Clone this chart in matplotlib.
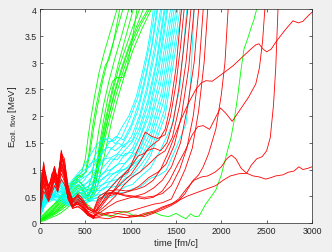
import matplotlib
matplotlib.use("Agg")
import matplotlib.pyplot as plt

plt.rcParams["font.family"] = ["Liberation Sans", "DejaVu Sans"]
plt.rcParams["mathtext.fontset"] = "custom"
plt.rcParams["mathtext.rm"] = "Liberation Sans"
plt.rcParams["mathtext.it"] = "Liberation Sans:italic"

# shared early-time samples for each family (fm/c)
RED_EARLY_T = [0, 20, 40, 65, 95, 130, 160, 195, 235, 270, 310, 360, 420, 470, 530, 590]
CYAN_EARLY_T = [0, 40, 80, 130, 180, 230, 280, 330, 380, 430, 480]
GREEN_EARLY_T = [0, 60, 120, 180, 240, 300, 360, 420]

# ---- red runs: early values + later (t, E) pairs ----
RED_EARLY = [
    [0.25, 0.75, 1.14, 0.85, 0.62, 0.88, 1.05, 0.78, 1.36, 1.05, 0.55, 0.32, 0.45, 0.35, 0.18, 0.12],
    [0.55, 0.95, 0.85, 0.70, 0.72, 0.80, 0.92, 0.88, 1.25, 1.15, 0.70, 0.40, 0.38, 0.30, 0.22, 0.18],
    [0.20, 0.45, 0.70, 0.55, 0.45, 0.70, 0.82, 0.60, 1.00, 0.82, 0.45, 0.30, 0.42, 0.38, 0.20, 0.10],
    [0.35, 0.62, 0.98, 0.80, 0.55, 0.62, 0.98, 0.70, 1.18, 0.90, 0.60, 0.45, 0.50, 0.42, 0.28, 0.20],
    [0.15, 0.40, 0.60, 0.50, 0.40, 0.55, 0.70, 0.58, 0.82, 0.72, 0.50, 0.28, 0.30, 0.25, 0.15, 0.08],
    [0.68, 0.80, 0.92, 0.65, 0.50, 0.72, 0.88, 0.75, 1.30, 1.20, 0.62, 0.35, 0.35, 0.28, 0.16, 0.10],
    [0.45, 0.70, 1.05, 0.90, 0.65, 0.78, 1.02, 0.82, 1.10, 0.95, 0.52, 0.30, 0.40, 0.33, 0.14, 0.09],
    [0.28, 0.85, 1.10, 0.75, 0.58, 0.92, 0.95, 0.68, 1.33, 1.00, 0.58, 0.38, 0.48, 0.40, 0.26, 0.22],
    [0.22, 0.55, 0.88, 0.78, 0.68, 0.86, 1.06, 0.72, 1.22, 1.08, 0.66, 0.42, 0.55, 0.45, 0.30, 0.24],
    [0.48, 0.58, 0.75, 0.60, 0.48, 0.66, 0.78, 0.62, 0.92, 0.78, 0.48, 0.30, 0.36, 0.28, 0.16, 0.13],
    [0.18, 0.50, 0.80, 0.58, 0.42, 0.60, 0.86, 0.66, 1.05, 0.85, 0.44, 0.27, 0.32, 0.24, 0.14, 0.12],
    [0.32, 0.78, 1.02, 0.86, 0.70, 0.84, 0.99, 0.80, 1.28, 0.98, 0.58, 0.40, 0.52, 0.38, 0.26, 0.21],
    [0.26, 0.66, 0.92, 0.68, 0.52, 0.76, 0.90, 0.66, 1.12, 0.88, 0.50, 0.33, 0.38, 0.30, 0.19, 0.14],
]
RED_LATE = [
    [(650, .35), (720, .55), (800, .70), (880, .85), (970, .95), (1060, 1.3), (1160, 1.7), (1230, 1.62),
     (1300, 1.58), (1380, 1.65), (1440, 2.0), (1500, 2.6), (1550, 3.3), (1590, 4.0)],
    [(650, .30), (730, .50), (820, .60), (900, .75), (1000, .90), (1100, 1.15), (1180, 1.35), (1260, 1.4),
     (1330, 1.35), (1400, 1.5), (1470, 1.9), (1530, 2.5), (1580, 3.2), (1630, 4.0)],
    [(650, .22), (740, .35), (830, .50), (920, .70), (1010, .85), (1100, .95), (1200, 1.1), (1290, 1.25),
     (1380, 1.35), (1460, 1.6), (1540, 2.2), (1610, 3.0), (1665, 4.0)],
    [(650, .40), (720, .55), (800, .58), (900, .55), (1000, .60), (1100, .70), (1200, .85), (1300, .95),
     (1390, 1.1), (1480, 1.45), (1560, 2.0), (1640, 2.9), (1700, 4.0)],
    [(650, .30), (750, .50), (850, .55), (950, .52), (1050, .50), (1150, .55), (1250, .65), (1350, .80),
     (1450, 1.05), (1550, 1.5), (1630, 2.2), (1700, 3.0), (1750, 4.0)],
    [(650, .12), (750, .18), (850, .22), (950, .20), (1050, .25), (1150, .30), (1250, .35), (1350, .38),
     (1450, .45), (1520, .70), (1600, 1.0), (1680, 1.4), (1750, 2.1), (1810, 3.0), (1850, 4.0)],
    [(650, .10), (750, .08), (850, .12), (950, .10), (1050, .15), (1150, .12), (1250, .18), (1350, .25),
     (1450, .33), (1520, .40), (1600, .55), (1680, .78), (1750, .90), (1800, 1.05), (1860, 1.3),
     (1940, 1.76), (2000, 2.4), (2040, 3.0), (2075, 4.0)],
    [(650, .45), (750, .55), (850, .55), (950, .50), (1050, .48), (1150, .45), (1250, .48), (1350, .60),
     (1430, .80), (1520, 1.1), (1600, 1.35), (1680, 1.65), (1740, 1.8), (1800, 1.82), (1870, 1.75),
     (1930, 1.95), (1990, 2.15), (2050, 2.05), (2120, 1.9), (2200, 2.1), (2300, 2.35), (2380, 2.6),
     (2420, 2.9), (2455, 3.4), (2480, 4.0)],
    [(650, .50), (750, .60), (850, .62), (950, .60), (1050, .62), (1150, .68), (1250, .80), (1330, 1.0),
     (1410, 1.3), (1490, 1.65), (1560, 1.95), (1640, 2.25), (1720, 2.5), (1780, 2.62), (1830, 2.66),
     (1900, 2.65), (1980, 2.75), (2060, 2.85), (2130, 2.94), (2230, 3.1), (2325, 3.25), (2380, 3.33),
     (2415, 3.35), (2460, 3.25), (2500, 3.2), (2550, 3.25), (2600, 3.38), (2700, 3.6), (2790, 3.78),
     (2850, 3.74), (2900, 3.77), (2950, 3.86), (3000, 3.94)],
    [(650, .15), (750, .20), (850, .18), (950, .15), (1050, .12), (1150, .15), (1250, .20), (1350, .28),
     (1450, .35), (1530, .45), (1620, .65), (1700, .80), (1780, .86), (1850, .88), (1930, .95),
     (2000, 1.05), (2060, 1.2), (2110, 1.27), (2160, 1.2), (2220, 1.02), (2280, .93), (2330, 1.08),
     (2390, 1.2), (2450, 1.24), (2500, 1.35), (2540, 1.6), (2575, 2.2), (2600, 2.9), (2625, 4.0)],
    [(650, .20), (750, .15), (850, .12), (950, .10), (1050, .12), (1150, .18), (1250, .22), (1350, .30),
     (1450, .36), (1530, .42), (1620, .50), (1700, .55), (1780, .60), (1860, .65), (1940, .70),
     (2020, .80), (2100, .88), (2190, .92), (2280, .93), (2350, .88), (2420, .86), (2490, .82),
     (2550, .85), (2600, .88), (2680, .90), (2740, .95), (2800, .97), (2855, 1.05), (2900, 1.0),
     (2950, 1.02), (3000, 1.05)],
    [(650, .25), (740, .45), (830, .65), (920, .90), (1000, 1.05), (1080, 1.25), (1150, 1.3), (1230, 1.45),
     (1310, 1.55), (1380, 1.75), (1440, 2.2), (1500, 2.9), (1560, 4.0)],
    [(650, .18), (750, .30), (850, .40), (950, .45), (1050, .50), (1150, .48), (1250, .50), (1350, .55),
     (1450, .70), (1540, 1.0), (1620, 1.4), (1690, 2.0), (1750, 2.8), (1800, 4.0)],
]

# ---- cyan runs ----
CYAN_EARLY = [
    [0.25, 0.50, 0.60, 0.65, 0.75, 0.80, 0.70, 0.75, 0.85, 0.95, 1.05],
    [0.20, 0.45, 0.55, 0.60, 0.70, 0.75, 0.68, 0.70, 0.80, 0.90, 0.98],
    [0.30, 0.55, 0.65, 0.60, 0.72, 0.78, 0.62, 0.65, 0.75, 0.82, 0.90],
    [0.15, 0.40, 0.50, 0.55, 0.62, 0.70, 0.60, 0.62, 0.70, 0.78, 0.85],
    [0.22, 0.48, 0.58, 0.62, 0.68, 0.72, 0.58, 0.60, 0.68, 0.72, 0.78],
    [0.12, 0.35, 0.45, 0.50, 0.60, 0.65, 0.55, 0.55, 0.62, 0.68, 0.72],
    [0.28, 0.50, 0.55, 0.58, 0.65, 0.68, 0.55, 0.52, 0.58, 0.62, 0.68],
    [0.18, 0.42, 0.52, 0.55, 0.60, 0.62, 0.52, 0.50, 0.55, 0.60, 0.65],
    [0.10, 0.30, 0.42, 0.48, 0.55, 0.60, 0.50, 0.48, 0.52, 0.55, 0.60],
    [0.25, 0.45, 0.50, 0.52, 0.58, 0.60, 0.48, 0.45, 0.50, 0.55, 0.58],
    [0.20, 0.38, 0.48, 0.50, 0.55, 0.58, 0.50, 0.45, 0.48, 0.50, 0.55],
    [0.15, 0.35, 0.45, 0.48, 0.52, 0.55, 0.45, 0.42, 0.45, 0.48, 0.52],
    [0.30, 0.48, 0.52, 0.55, 0.50, 0.52, 0.45, 0.40, 0.42, 0.45, 0.48],
    [0.12, 0.30, 0.40, 0.45, 0.50, 0.50, 0.42, 0.40, 0.42, 0.45, 0.48],
    [0.22, 0.40, 0.48, 0.50, 0.55, 0.50, 0.42, 0.38, 0.40, 0.42, 0.45],
    [0.18, 0.35, 0.42, 0.45, 0.48, 0.50, 0.40, 0.36, 0.38, 0.40, 0.42],
    [0.25, 0.42, 0.45, 0.48, 0.50, 0.45, 0.38, 0.35, 0.36, 0.38, 0.40],
    [0.10, 0.28, 0.38, 0.42, 0.45, 0.45, 0.38, 0.34, 0.35, 0.36, 0.38],
    [0.20, 0.35, 0.42, 0.45, 0.42, 0.40, 0.35, 0.32, 0.33, 0.35, 0.36],
]
CYAN_LATE = [
    [(550, 1.25), (620, 1.45), (700, 1.6), (760, 1.52), (830, 1.55), (900, 1.78), (980, 2.0), (1060, 2.35),
     (1120, 2.75), (1180, 3.2), (1220, 3.6), (1250, 4.0)],
    [(550, 1.05), (620, 1.3), (690, 1.52), (760, 1.6), (830, 1.48), (900, 1.6), (990, 1.95), (1080, 2.35),
     (1150, 2.85), (1210, 3.35), (1270, 4.0)],
    [(550, 1.1), (620, 1.18), (690, 1.3), (760, 1.5), (840, 1.62), (920, 1.55), (1010, 1.85), (1100, 2.3),
     (1170, 2.8), (1230, 3.3), (1290, 4.0)],
    [(550, .92), (620, 1.15), (690, 1.35), (760, 1.42), (830, 1.35), (900, 1.45), (990, 1.72), (1080, 2.1),
     (1160, 2.65), (1240, 3.35), (1300, 4.0)],
    [(550, .95), (620, 1.0), (700, 1.15), (780, 1.38), (860, 1.5), (930, 1.42), (1010, 1.62), (1100, 2.02),
     (1180, 2.55), (1260, 3.25), (1330, 4.0)],
    [(550, .78), (620, 1.0), (700, 1.2), (780, 1.22), (860, 1.3), (940, 1.48), (1020, 1.55), (1100, 1.95),
     (1180, 2.45), (1270, 3.2), (1345, 4.0)],
    [(550, .82), (620, .88), (700, 1.05), (780, 1.2), (850, 1.18), (930, 1.35), (1020, 1.52), (1100, 1.8),
     (1190, 2.3), (1280, 3.0), (1370, 4.0)],
    [(550, .70), (620, .85), (700, .92), (780, 1.12), (860, 1.28), (940, 1.25), (1020, 1.4), (1100, 1.72),
     (1190, 2.2), (1290, 3.0), (1380, 4.0)],
    [(550, .72), (620, .75), (700, .95), (780, 1.0), (860, 1.1), (940, 1.3), (1020, 1.32), (1100, 1.6),
     (1200, 2.1), (1300, 2.9), (1400, 4.0)],
    [(550, .62), (620, .78), (700, .82), (780, .98), (860, 1.1), (940, 1.12), (1020, 1.3), (1100, 1.58),
     (1200, 2.0), (1310, 2.85), (1410, 4.0)],
    [(550, .65), (620, .68), (700, .85), (780, .92), (860, .95), (940, 1.12), (1020, 1.25), (1110, 1.42),
     (1210, 1.9), (1320, 2.7), (1440, 4.0)],
    [(550, .55), (620, .68), (700, .72), (780, .88), (860, .98), (940, 1.0), (1020, 1.15), (1110, 1.4),
     (1210, 1.8), (1330, 2.6), (1460, 4.0)],
    [(550, .58), (620, .60), (700, .74), (780, .78), (860, .92), (940, 1.02), (1020, 1.08), (1110, 1.32),
     (1220, 1.7), (1340, 2.45), (1480, 4.0)],
    [(550, .50), (620, .60), (700, .62), (780, .78), (860, .82), (940, .95), (1020, 1.08), (1110, 1.2),
     (1220, 1.6), (1350, 2.35), (1500, 4.0)],
    [(550, .52), (620, .52), (700, .66), (780, .68), (860, .82), (940, .88), (1020, 1.02), (1110, 1.18),
     (1220, 1.48), (1360, 2.25), (1520, 4.0)],
    [(550, .44), (620, .52), (700, .54), (780, .66), (860, .70), (940, .84), (1020, .90), (1110, 1.08),
     (1220, 1.35), (1370, 2.1), (1545, 4.0)],
    [(550, .46), (620, .46), (700, .55), (780, .56), (860, .68), (940, .74), (1020, .87), (1110, .96),
     (1220, 1.26), (1380, 2.0), (1565, 4.0)],
    [(550, .40), (620, .48), (700, .48), (780, .57), (860, .58), (940, .68), (1020, .72), (1110, .87),
     (1220, 1.03), (1330, 1.37), (1450, 1.8), (1540, 2.5), (1620, 4.0)],
    [(550, .42), (620, .41), (700, .48), (780, .48), (860, .56), (940, .57), (1020, .64), (1110, .68),
     (1220, .84), (1300, .88), (1390, .98), (1500, 1.4), (1610, 1.85), (1660, 2.6), (1700, 4.0)],
]

# ---- green runs ----
GREEN_EARLY = [
    [0.05, 0.15, 0.25, 0.35, 0.50, 0.62, 0.75, 0.88],
    [0.08, 0.18, 0.28, 0.40, 0.52, 0.65, 0.78, 0.90],
    [0.04, 0.12, 0.20, 0.30, 0.42, 0.55, 0.70, 0.85],
    [0.06, 0.14, 0.22, 0.32, 0.45, 0.58, 0.72, 0.82],
    [0.10, 0.20, 0.30, 0.38, 0.48, 0.60, 0.70, 0.78],
    [0.05, 0.10, 0.18, 0.28, 0.38, 0.50, 0.62, 0.72],
    [0.03, 0.10, 0.15, 0.22, 0.32, 0.45, 0.58, 0.70],
    [0.07, 0.12, 0.18, 0.25, 0.35, 0.45, 0.55, 0.65],
    [0.04, 0.08, 0.14, 0.20, 0.28, 0.38, 0.48, 0.58],
    [0.06, 0.10, 0.16, 0.22, 0.30, 0.40, 0.50, 0.60],
    [0.03, 0.07, 0.12, 0.18, 0.25, 0.33, 0.42, 0.52],
    [0.02, 0.05, 0.10, 0.14, 0.20, 0.28, 0.38, 0.45],
]
GREEN_LATE = [
    [(460, .95), (500, 1.2), (530, 1.6), (560, 1.95), (600, 2.35), (650, 2.8), (710, 3.2), (780, 3.6), (850, 4.0)],
    [(460, .85), (500, .95), (540, 1.3), (580, 1.8), (620, 2.2), (670, 2.6), (720, 2.95), (760, 3.05),
     (800, 3.3), (840, 3.65), (880, 4.0)],
    [(460, .90), (510, .95), (550, 1.3), (590, 1.75), (630, 2.15), (690, 2.65), (750, 3.05), (830, 3.5), (915, 4.0)],
    [(470, .70), (520, .60), (570, .85), (610, 1.3), (650, 1.75), (700, 2.2), (760, 2.65), (830, 3.1),
     (900, 3.5), (980, 4.0)],
    [(470, .72), (530, .55), (580, .70), (630, 1.1), (680, 1.6), (730, 2.0), (790, 2.45), (860, 2.95),
     (940, 3.45), (1030, 4.0)],
    [(470, .65), (520, .50), (570, .60), (610, .90), (650, 1.4), (700, 1.9), (750, 2.35), (800, 2.65),
     (850, 2.72), (915, 2.72), (960, 2.93), (1000, 3.25), (1030, 3.56), (1070, 4.0)],
    [(470, .62), (530, .48), (590, .70), (640, 1.15), (690, 1.6), (740, 2.0), (800, 2.45), (870, 2.9),
     (950, 3.3), (1020, 3.65), (1100, 4.0)],
    [(470, .60), (530, .50), (600, .75), (650, 1.2), (700, 1.6), (750, 1.95), (820, 2.45), (900, 2.9),
     (980, 3.3), (1060, 3.65), (1140, 4.0)],
    [(480, .55), (540, .42), (600, .60), (650, 1.1), (700, 1.55), (750, 1.95), (820, 2.4), (900, 2.85),
     (990, 3.3), (1090, 3.7), (1190, 4.0)],
    [(480, .50), (550, .45), (610, .70), (670, 1.2), (720, 1.6), (770, 1.95), (840, 2.4), (920, 2.85),
     (1010, 3.3), (1110, 3.7), (1210, 4.0)],
    [(480, .48), (550, .40), (620, .60), (690, 1.1), (740, 1.5), (790, 1.9), (860, 2.35), (940, 2.8),
     (1030, 3.25), (1130, 3.65), (1230, 4.0)],
    [(480, .42), (550, .30), (620, .20), (700, .15), (780, .12), (860, .18), (940, .22), (1020, .15),
     (1100, .12), (1180, .18), (1260, .20), (1340, .14), (1420, .12), (1500, .18), (1560, .12),
     (1610, .08), (1660, .17), (1710, .12), (1755, .13), (1830, .36), (1890, .50), (1940, .62),
     (2000, .90), (2060, 1.3), (2107, 1.6), (2140, 1.9), (2180, 2.37), (2220, 2.9), (2250, 3.25),
     (2295, 3.47), (2330, 3.66), (2360, 3.8), (2390, 4.0)],
]

XTICKS = [0, 500, 1000, 1500, 2000, 2500, 3000]
YTICKS = [0, 0.5, 1, 1.5, 2, 2.5, 3, 3.5, 4]
YTICKLABELS = ["0", "0.5", "1", "1.5", "2", "2.5", "3", "3.5", "4"]

INK = "#262626"


def draw_family(ax, early_t, early, late, color):
    for ev, lt in zip(early, late):
        t = list(early_t) + [p[0] for p in lt]
        e = list(ev) + [p[1] for p in lt]
        ax.plot(t, e, color=color, lw=0.6, solid_joinstyle="round")


fig = plt.figure(figsize=(3.32, 2.53), dpi=100, facecolor="#f0f0f0")
ax = fig.add_axes([40 / 332, 29 / 253, 272 / 332, 214 / 253])
ax.set_facecolor("white")

draw_family(ax, GREEN_EARLY_T, GREEN_EARLY, GREEN_LATE, "#00ff00")
draw_family(ax, CYAN_EARLY_T, CYAN_EARLY, CYAN_LATE, "#00ffff")
draw_family(ax, RED_EARLY_T, RED_EARLY, RED_LATE, "#ff0000")

ax.set_xlim(0, 3000)
ax.set_ylim(0, 4)
ax.set_xticks(XTICKS)
ax.set_yticks(YTICKS)
ax.set_yticklabels(YTICKLABELS)
ax.tick_params(direction="in", length=2.2, width=0.5, colors=INK, labelsize=6.3,
               top=True, right=True, pad=2.5)
for s in ax.spines.values():
    s.set_color(INK)
    s.set_linewidth(0.5)

ax.set_xlabel("time [fm/c]", fontsize=6.8, color=INK, labelpad=2)
ax.set_ylabel(r"E$_{\mathrm{coll.\ flow}}$ [MeV]", fontsize=6.8, color=INK, labelpad=4)

fig.savefig("out.png", dpi=100, facecolor=fig.get_facecolor())
